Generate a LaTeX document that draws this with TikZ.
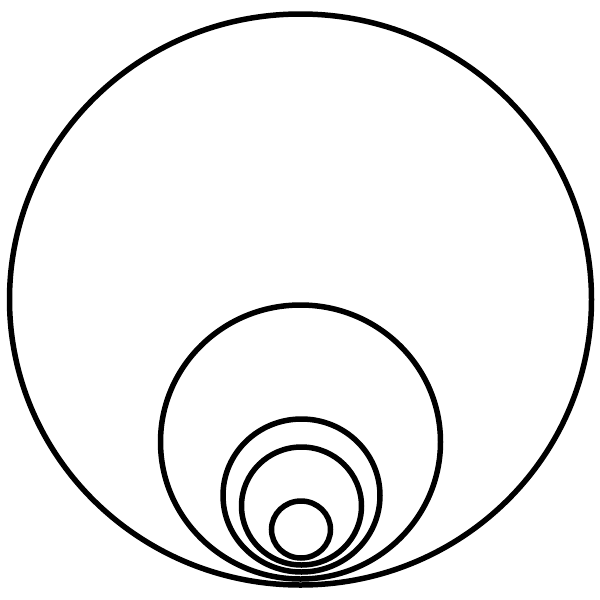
\documentclass[tikz,border=0pt]{standalone}
\begin{document}
\begin{tikzpicture}[x=1pt,y=-1pt,ring/.style={draw=black,line width=5.5pt}]
\useasboundingbox (0,0) rectangle (600,600);
\draw[ring] (300.5,299.5) ellipse [x radius=291, y radius=285.5];
\draw[ring] (300.5,442) ellipse [x radius=140, y radius=137];
\draw[ring] (301.5,495.5) ellipse [x radius=78.5, y radius=76.5];
\draw[ring] (301.5,506) ellipse [x radius=60, y radius=59];
\draw[ring] (301,529.5) ellipse [x radius=29.5, y radius=28.5];
\end{tikzpicture}
\end{document}
